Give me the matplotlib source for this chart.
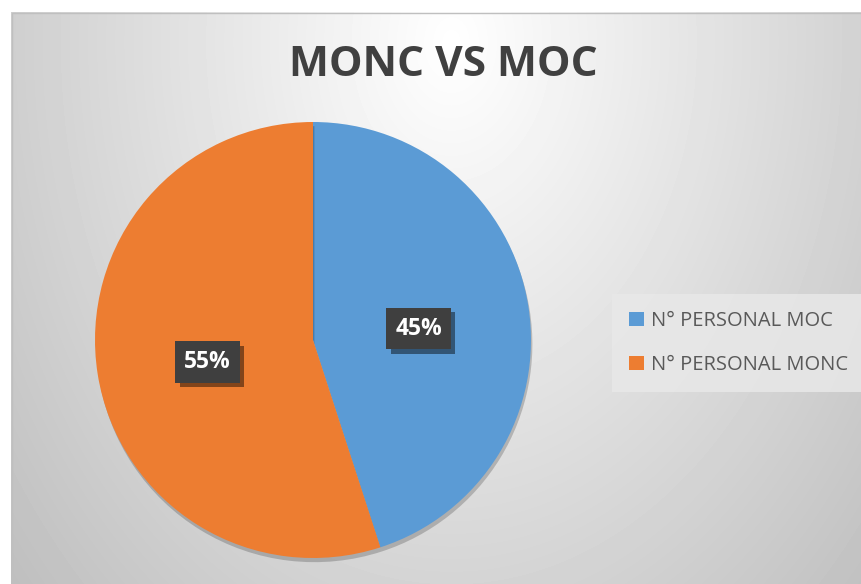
import matplotlib
matplotlib.use('Agg')
import matplotlib.pyplot as plt
import matplotlib.patheffects as pe
from matplotlib.patches import Patch
import numpy as np

title = 'MONC VS MOC'
labels = ['N° PERSONAL MOC', 'N° PERSONAL MONC']
values = [45, 55]
colors = ['#5B9BD5', '#ED7D31']

plt.rcParams['font.family'] = ['Open Sans', 'DejaVu Sans']

W, H = 861, 584
fig = plt.figure(figsize=(W / 100, H / 100), dpi=100)
fig.patch.set_facecolor('white')

# radial grey gradient background of the chart area
bg = fig.add_axes([11 / W, 0, 1 - 11 / W, 1 - 12 / H])
yy, xx = np.mgrid[0:572, 0:850]
d = np.sqrt(((xx - 440) * 0.00043) ** 2 + ((yy - 30) * 0.00031) ** 2)
g = np.clip(1.0 - d, 0.74, 1.0)
bg.imshow(g, cmap='gray', vmin=0, vmax=1, aspect='auto', interpolation='bilinear')
bg.axis('off')
fig.add_artist(plt.Line2D([11.5 / W, 11.5 / W, 1], [0, 1 - 12.5 / H, 1 - 12.5 / H],
                          color='#bfbfbf', lw=1))

# pie
cx, cy, r = 313, 340, 218
ax = fig.add_axes([(cx - r) / W, (H - cy - r) / H, 2 * r / W, 2 * r / H])
wedges, texts, autotexts = ax.pie(
    values, colors=colors, startangle=90, counterclock=False,
    autopct='%d%%', pctdistance=0.49,
    wedgeprops=dict(linewidth=0,
                    path_effects=[pe.SimplePatchShadow(offset=(1, -3), alpha=0.2, shadow_rgbFace='black'),
                                  pe.Normal()]),
    textprops=dict(color='white', fontsize=16.5, fontweight='bold'))
for t in autotexts:
    x, y = t.get_position()
    t.set_position((x, y - 0.025))
    t.set_bbox(dict(boxstyle='square,pad=0.38', fc='#3f3f3f', ec='none'))
    t.get_bbox_patch().set_path_effects([
        pe.SimplePatchShadow(offset=(3, -3), alpha=0.45, shadow_rgbFace='black'),
        pe.Normal()])
ax.set_xlim(-1, 1)
ax.set_ylim(-1, 1)
ax.set_aspect('equal')
ax.axis('off')

fig.text(443 / W, 1 - 66 / H, title, ha='center', va='center',
         fontsize=30.5, fontweight='bold', color='#404040')

handles = [Patch(facecolor=c, edgecolor='none') for c in colors]
leg = fig.legend(handles, labels, loc='center left',
                 bbox_to_anchor=(612 / W, 1 - 343 / H),
                 frameon=True, fontsize=14.5, handlelength=0.75, handleheight=0.75,
                 handletextpad=0.35, labelspacing=1.2, borderpad=0.85,
                 borderaxespad=0, labelcolor='#595959', fancybox=False)
leg.get_frame().set_facecolor('#e8e8e8')
leg.get_frame().set_edgecolor('none')
leg.get_frame().set_alpha(0.85)

fig.savefig('out.png', dpi=100)
